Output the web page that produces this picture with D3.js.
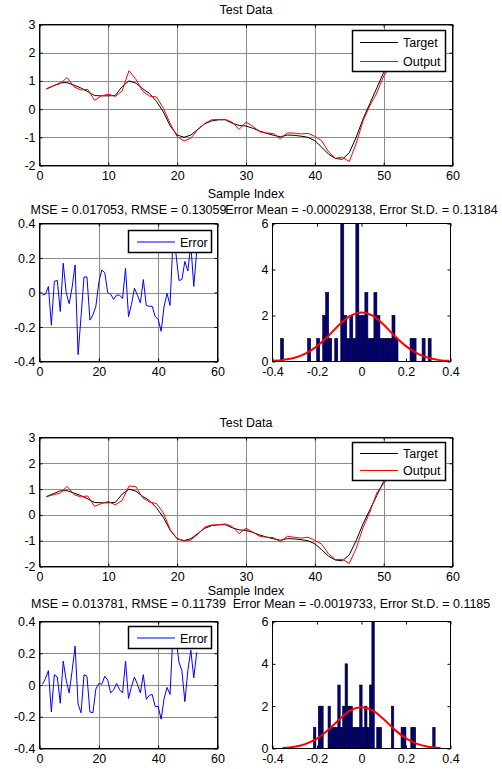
<!DOCTYPE html>
<html>
<head>
<meta charset="utf-8">
<script src="https://cdn.jsdelivr.net/npm/d3@7"></script>
<style>
  html, body { margin: 0; padding: 0; background: #fff; }
  svg { display: block; }
  text { font-family: "Liberation Sans", Arial, sans-serif; }
</style>
</head>
<body>
<script>
// ---------------- DATA ----------------
const sampleIndex = d3.range(1, 54);

const target = [0.71, 0.82, 0.93, 0.94, 0.85, 0.75, 0.62, 0.48, 0.47, 0.47,
  0.48, 0.80, 1.00, 0.92, 0.72, 0.55, 0.27, -0.10, -0.60, -0.92,
  -1.00, -0.92, -0.72, -0.52, -0.42, -0.38, -0.38, -0.50, -0.58, -0.60,
  -0.68, -0.78, -0.86, -0.93, -0.98, -0.92, -0.93, -0.96, -1.00, -1.12,
  -1.35, -1.60, -1.75, -1.78, -1.55, -1.00, -0.35, 0.20, 0.75, 1.30,
  1.80, 2.20, 2.50];

const output1 = [0.72, 0.83, 0.90, 1.12, 0.79, 0.68, 0.70, 0.31, 0.47, 0.53,
  0.45, 0.64, 1.36, 1.06, 0.63, 0.46, 0.43, 0.03, -0.52, -0.98,
  -1.13, -1.03, -0.72, -0.51, -0.38, -0.365, -0.365, -0.465, -0.72, -0.46,
  -0.61, -0.805, -0.845, -0.87, -1.055, -0.845, -0.85, -0.88, -0.86, -0.965,
  -1.125, -1.52, -1.745, -1.705, -1.86, -1.225, -0.42, 0.125, 0.57, 1.175,
  1.52, 2.165, 2.26];

const error1 = [-0.015, -0.01, 0.035, -0.19, 0.065, 0.07, -0.11, 0.17, 0.0, -0.065,
  0.03, 0.16, -0.36, -0.14, 0.09, 0.09, -0.16, -0.13, -0.08, 0.06,
  0.13, 0.115, 0.0, -0.01, -0.04, -0.015, -0.015, -0.035, 0.14, -0.14,
  -0.07, 0.025, -0.015, -0.06, 0.075, -0.075, -0.08, -0.08, -0.14, -0.155,
  -0.225, -0.08, -0.005, -0.075, 0.31, 0.225, 0.07, 0.075, 0.18, 0.125,
  0.28, 0.035, 0.24];

const output2 = [0.705, 0.78, 0.84, 1.11, 0.785, 0.70, 0.735, 0.33, 0.44, 0.52,
  0.39, 0.555, 1.12, 1.095, 0.655, 0.495, 0.44, 0.075, -0.575, -0.93,
  -1.005, -0.975, -0.75, -0.47, -0.39, -0.39, -0.35, -0.45, -0.73, -0.515,
  -0.67, -0.83, -0.865, -0.88, -1.045, -0.83, -0.865, -0.90, -0.865, -0.985,
  -1.135, -1.515, -1.735, -1.72, -1.88, -1.30, -0.495, 0.11, 0.855, 1.21,
  1.58, 2.155, 2.295];

const error2 = [0.005, 0.04, 0.09, -0.17, 0.065, 0.05, -0.115, 0.15, 0.03, -0.05,
  0.09, 0.245, -0.12, -0.175, 0.065, 0.055, -0.17, -0.175, -0.025, 0.01,
  0.005, 0.055, 0.03, -0.05, -0.03, 0.01, -0.03, -0.05, 0.15, -0.085,
  -0.01, 0.05, 0.005, -0.05, 0.065, -0.09, -0.065, -0.06, -0.135, -0.135,
  -0.215, -0.085, -0.015, -0.06, 0.33, 0.30, 0.145, 0.09, -0.105, 0.09,
  0.22, 0.045, 0.205];

// histogram counts (50 bins between the range limits)
const hist1Range = [-0.364, 0.313];
const hist1Counts = [1,0,0,0,0,0,0,0,0,1, 0,0,1,0,2,3,1,0,1,0, 6,2,1,2,1,6,2,2,3,1,
  1,3,2,1,1,1,1,2,1,0, 0,0,0,1,1,0,0,1,0,1];
const hist2Range = [-0.216, 0.331];
const hist2Counts = [1,0,2,2,0,0,2,1,1,1, 3,1,2,4,2,2,1,1,1,3, 1,2,1,3,6,0,1,1,0,0,
  0,0,2,0,0,0,1,1,0,0, 1,1,0,0,0,0,0,0,0,1];

// fitted normal curves
const fit1X = [-0.395, -0.35, -0.3, -0.25, -0.2, -0.15, -0.1, -0.05, 0, 0.05, 0.1, 0.15, 0.2, 0.25, 0.3, 0.35, 0.395];
const fit1Y = [0.03, 0.07, 0.16, 0.35, 0.67, 1.1, 1.6, 1.98, 2.13, 1.99, 1.6, 1.1, 0.67, 0.35, 0.16, 0.06, 0.03];
const fit2X = [-0.355, -0.3, -0.25, -0.2, -0.15, -0.1, -0.05, 0, 0.05, 0.1, 0.15, 0.2, 0.25, 0.3, 0.355];
const fit2Y = [0.02, 0.08, 0.22, 0.47, 0.87, 1.37, 1.80, 1.95, 1.80, 1.38, 0.88, 0.48, 0.22, 0.08, 0.02];

const mainXTicks = [0, 10, 20, 30, 40, 50, 60];
const mainYTicks = [-2, -1, 0, 1, 2, 3];
const errXTicks = [0, 20, 40, 60];
const errYTicks = [-0.4, -0.2, 0, 0.2, 0.4];
const histXTicks = [-0.4, -0.2, 0, 0.2, 0.4];
const histYTicks = [0, 2, 4, 6];

const titles = {
  main: "Test Data",
  xlabel: "Sample Index",
  err1: "MSE = 0.017053, RMSE = 0.13059",
  hist1: "Error Mean = -0.00029138, Error St.D. = 0.13184",
  err2: "MSE = 0.013781, RMSE = 0.11739",
  hist2: "Error Mean = -0.0019733, Error St.D. = 0.1185"
};
const legendMain = ["Target", "Output"];
const legendErr = ["Error"];

// ---------------- DRAW ----------------
const W = 502, H = 769;
const FS = 12.5;
const svg = d3.select("body").append("svg").attr("width", W).attr("height", H);
svg.append("rect").attr("width", W).attr("height", H).attr("fill", "#fff");

let clipId = 0;
function panel(box, xDom, yDom, xTicks, yTicks, grid) {
  const x = d3.scaleLinear(xDom, [box.x0, box.x1]);
  const y = d3.scaleLinear(yDom, [box.y1, box.y0]);
  const g = svg.append("g");
  const id = "clip" + (clipId++);
  g.append("clipPath").attr("id", id).append("rect")
    .attr("x", box.x0).attr("y", box.y0).attr("width", box.x1 - box.x0).attr("height", box.y1 - box.y0);
  if (grid) {
    const gg = g.append("g").attr("stroke", "#8c8c8c").attr("stroke-width", 1).attr("shape-rendering", "crispEdges");
    xTicks.forEach(t => gg.append("line").attr("x1", Math.round(x(t)) + 0.5).attr("x2", Math.round(x(t)) + 0.5).attr("y1", box.y0).attr("y2", box.y1));
    yTicks.forEach(t => gg.append("line").attr("y1", Math.round(y(t)) + 0.5).attr("y2", Math.round(y(t)) + 0.5).attr("x1", box.x0).attr("x2", box.x1));
  }
  const plot = g.append("g").attr("clip-path", `url(#${id})`);
  const fmt = d => String(d);
  const ax = [
    g.append("g").attr("transform", `translate(0,${box.y1})`).call(d3.axisBottom(x).tickValues(xTicks).tickSizeInner(-3).tickSizeOuter(0).tickPadding(6).tickFormat(fmt)),
    g.append("g").attr("transform", `translate(0,${box.y0})`).call(d3.axisTop(x).tickValues(xTicks).tickSizeInner(-3).tickSizeOuter(0).tickFormat("")),
    g.append("g").attr("transform", `translate(${box.x0},0)`).call(d3.axisLeft(y).tickValues(yTicks).tickSizeInner(-3).tickSizeOuter(0).tickPadding(4).tickFormat(fmt)),
    g.append("g").attr("transform", `translate(${box.x1},0)`).call(d3.axisRight(y).tickValues(yTicks).tickSizeInner(-3).tickSizeOuter(0).tickFormat(""))
  ];
  ax.forEach(a => {
    a.select(".domain").remove();
    a.attr("font-size", FS).attr("font-family", "Liberation Sans, Arial, sans-serif");
    a.selectAll("text").attr("fill", "#000");
    a.selectAll("line").attr("stroke", "#000");
  });
  const frame = g.append("rect").attr("x", box.x0).attr("y", box.y0)
    .attr("width", box.x1 - box.x0).attr("height", box.y1 - box.y0)
    .attr("fill", "none").attr("stroke", "#000").attr("stroke-width", 1);
  return { x, y, g, plot, frame };
}

function text(x, y, s, anchor) {
  svg.append("text").attr("x", x).attr("y", y).attr("text-anchor", anchor || "middle")
    .attr("font-size", FS).attr("fill", "#000").text(s);
}

function legend(box, items) {
  const g = svg.append("g");
  g.append("rect").attr("x", box.x0).attr("y", box.y0).attr("width", box.x1 - box.x0).attr("height", box.y1 - box.y0)
    .attr("fill", "#fff").attr("stroke", "#000").attr("stroke-width", 1.5);
  items.forEach((it, i) => {
    const yy = box.rows[i];
    g.append("line").attr("x1", box.lx0).attr("x2", box.lx1).attr("y1", yy).attr("y2", yy)
      .attr("stroke", it.color).attr("stroke-width", 1);
    g.append("text").attr("x", box.tx).attr("y", yy + 4.5).attr("font-size", FS).attr("fill", "#000").text(it.label);
  });
}

function figure(L, output, error, histRange, histCounts, fitX, fitY, subErr, subHist) {
  // main plot
  const m = panel(L.main, [0, 60], [-2, 3], mainXTicks, mainYTicks, true);
  const line = d3.line().x((d, i) => m.x(sampleIndex[i])).y(d => m.y(d));
  m.plot.append("path").datum(target).attr("d", line).attr("fill", "none").attr("stroke", "#000").attr("stroke-width", 1);
  m.plot.append("path").datum(output).attr("d", line).attr("fill", "none").attr("stroke", "#ff0000").attr("stroke-width", 1);
  m.frame.raise();
  legend(L.legMain, [{ label: legendMain[0], color: "#000" }, { label: legendMain[1], color: "#ff0000" }]);
  text((L.main.x0 + L.main.x1) / 2, L.titleY, titles.main);
  text((L.main.x0 + L.main.x1) / 2, L.xlabelY, titles.xlabel);

  // error plot
  const e = panel(L.err, [0, 60], [-0.4, 0.4], errXTicks, errYTicks, true);
  const eline = d3.line().x((d, i) => e.x(sampleIndex[i])).y(d => e.y(d));
  e.plot.append("path").datum(error).attr("d", eline).attr("fill", "none").attr("stroke", "#0000ff").attr("stroke-width", 1);
  e.frame.raise();
  legend(L.legErr, [{ label: legendErr[0], color: "#0000ff" }]);
  text((L.err.x0 + L.err.x1) / 2, L.subY, subErr);

  // histogram
  const h = panel(L.hist, [-0.4, 0.4], [0, 6], histXTicks, histYTicks, false);
  const bw = (histRange[1] - histRange[0]) / histCounts.length;
  histCounts.forEach((c, k) => {
    if (!c) return;
    const a = histRange[0] + k * bw;
    h.plot.append("rect").attr("x", h.x(a)).attr("width", h.x(a + bw) - h.x(a))
      .attr("y", h.y(c)).attr("height", h.y(0) - h.y(c))
      .attr("fill", "#000088").attr("stroke", "#000").attr("stroke-width", 0.6);
  });
  const fline = d3.line().x((d, i) => h.x(fitX[i])).y(d => h.y(d)).curve(d3.curveMonotoneX);
  h.plot.append("path").datum(fitY).attr("d", fline).attr("fill", "none").attr("stroke", "#ff0000").attr("stroke-width", 2);
  h.frame.raise();
  text((L.hist.x0 + L.hist.x1) / 2, L.subY, subHist);
}

const L1 = {
  main: { x0: 39.5, x1: 452.5, y0: 24.5, y1: 165.5 },
  titleY: 14, xlabelY: 198,
  legMain: { x0: 352.5, x1: 445.5, y0: 30.5, y1: 71.5, lx0: 360, lx1: 398, tx: 403, rows: [42.5, 61.5] },
  err: { x0: 39.5, x1: 217.5, y0: 223.5, y1: 361.5 },
  legErr: { x0: 128.5, x1: 211.5, y0: 230.5, y1: 252.5, lx0: 137, lx1: 175, tx: 180, rows: [242] },
  hist: { x0: 272.5, x1: 450.5, y0: 223.5, y1: 361.5 },
  subY: 213.5
};
const L2 = {
  main: { x0: 39.5, x1: 452.5, y0: 437.5, y1: 566.5 },
  titleY: 427, xlabelY: 595,
  legMain: { x0: 352.5, x1: 445.5, y0: 442.5, y1: 480.5, lx0: 360, lx1: 398, tx: 403, rows: [453.5, 470.5] },
  err: { x0: 39.5, x1: 217.5, y0: 621.5, y1: 748.5 },
  legErr: { x0: 128.5, x1: 211.5, y0: 626.5, y1: 648.5, lx0: 137, lx1: 175, tx: 180, rows: [638] },
  hist: { x0: 272.5, x1: 450.5, y0: 621.5, y1: 748.5 },
  subY: 608
};

figure(L1, output1, error1, hist1Range, hist1Counts, fit1X, fit1Y, titles.err1, titles.hist1);
figure(L2, output2, error2, hist2Range, hist2Counts, fit2X, fit2Y, titles.err2, titles.hist2);
</script>
</body>
</html>
